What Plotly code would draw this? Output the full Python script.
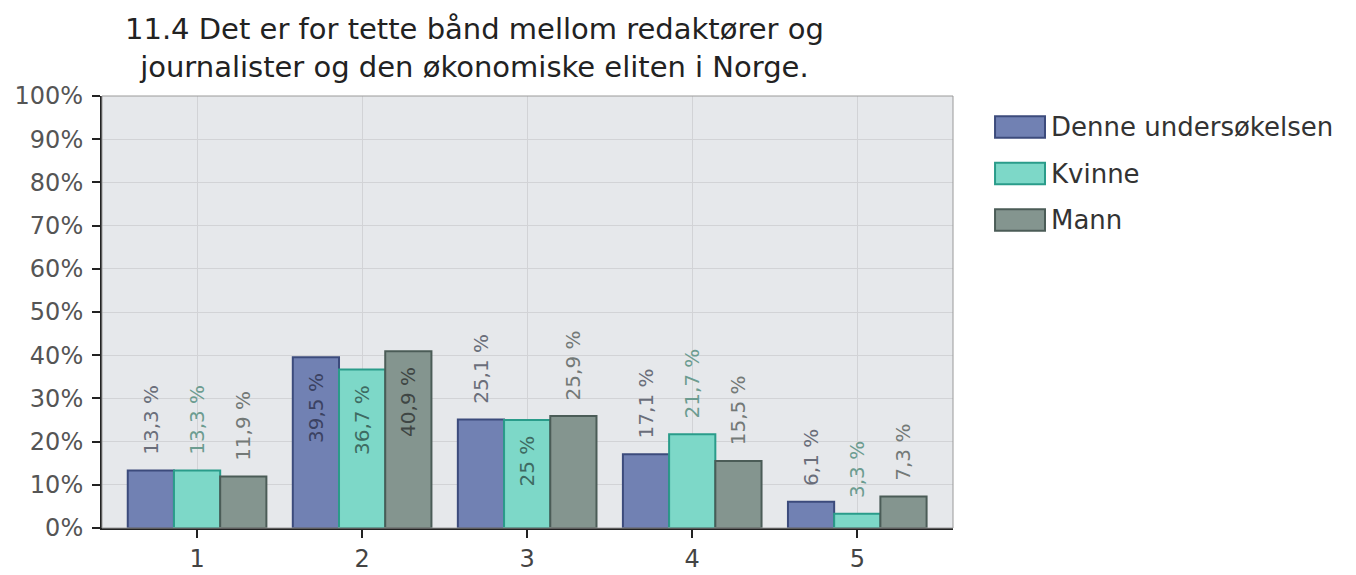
import plotly.graph_objects as go

categories = ["1", "2", "3", "4", "5"]
denne = [13.3, 39.5, 25.1, 17.1, 6.1]
kvinne = [13.3, 36.7, 25.0, 21.7, 3.3]
mann = [11.9, 40.9, 25.9, 15.5, 7.3]
series_names = ["Denne undersøkelsen", "Kvinne", "Mann"]
y_ticks = [0, 10, 20, 30, 40, 50, 60, 70, 80, 90, 100]
y_tick_labels = [f"{v}%" for v in y_ticks]
title_text = "11.4 Det er for tette bånd mellom redaktører og<br>journalister og den økonomiske eliten i Norge."

# label placement as in the reference (some labels sit inside the bar)
positions = {
    "Denne undersøkelsen": ["outside", "inside", "outside", "outside", "outside"],
    "Kvinne": ["outside", "inside", "inside", "outside", "outside"],
    "Mann": ["outside", "inside", "outside", "outside", "outside"],
}
fills = ["#7181b3", "#7dd8c8", "#84958f"]
lines = ["#3c4b7c", "#2a9c8a", "#4b5c57"]
label_colors = ["#6a6e7a", "#6c9c90", "#737977"]
inside_colors = ["#3b4262", "#3e6b62", "#3f4644"]

FONT = "DejaVu Sans, Verdana, sans-serif"
NB = "\u00a0\u00a0"


def fmt(v, pos):
    s = f"{v:g}".replace(".", ",") + " %"
    return NB + s if pos == "outside" else s + NB


fig = go.Figure()
for name, vals, fc, lc, tc, ic in zip(series_names, [denne, kvinne, mann], fills, lines,
                                      label_colors, inside_colors):
    pos = positions[name]
    fig.add_trace(go.Bar(
        name=name,
        x=categories,
        y=vals,
        text=[fmt(v, p) for v, p in zip(vals, pos)],
        textposition=pos,
        textangle=-90,
        insidetextanchor="end",
        constraintext="none",
        cliponaxis=False,
        textfont=dict(size=20, color=[ic if p == "inside" else tc for p in pos], family=FONT),
        marker=dict(color=fc, line=dict(color=lc, width=2)),
        showlegend=False,
    ))

# manual legend with wide swatches, as in the reference
legend_y = [0.9282, 0.8206, 0.7130]
for name, fc, lc, yc in zip(series_names, fills, lines, legend_y):
    fig.add_shape(type="rect", xref="paper", yref="paper",
                  x0=1.0494, x1=1.1081, y0=yc - 0.025, y1=yc + 0.025,
                  fillcolor=fc, line=dict(color=lc, width=2))
    fig.add_annotation(xref="paper", yref="paper", x=1.113, y=yc,
                       xanchor="left", yanchor="middle", showarrow=False,
                       text=name, font=dict(size=26, color="#333333", family=FONT))

fig.add_annotation(xref="paper", yref="paper", x=0.4383, y=1.111,
                   xanchor="center", yanchor="middle", showarrow=False,
                   text=title_text, font=dict(size=29, color="#222222", family=FONT))

fig.update_layout(
    width=1348,
    height=567,
    barmode="group",
    bargap=0.16,
    bargroupgap=0,
    paper_bgcolor="white",
    plot_bgcolor="#e6e8eb",
    margin=dict(l=94, r=403, t=88, b=47, autoexpand=False),
    font=dict(family=FONT, color="#555555"),
    showlegend=False,
)
fig.update_xaxes(
    type="category",
    range=[-0.576, 4.58],
    automargin=False,
    showgrid=True, gridcolor="#d2d3d6", gridwidth=1,
    showline=True, linecolor="#222222", linewidth=2,
    ticks="outside", ticklen=8, tickcolor="#222222", tickwidth=2,
    ticklabelstandoff=0,
    tickfont=dict(size=24, color="#444444", family=FONT),
)
fig.update_yaxes(
    range=[0, 100],
    automargin=False,
    tickvals=y_ticks, ticktext=y_tick_labels,
    showgrid=True, gridcolor="#d2d3d6", gridwidth=1,
    showline=True, linecolor="#222222", linewidth=2,
    ticks="outside", ticklen=8, tickcolor="#222222", tickwidth=2,
    ticklabelstandoff=4,
    tickfont=dict(size=24, color="#555555", family=FONT),
    zeroline=False,
)
fig.add_shape(type="rect", xref="paper", yref="paper", x0=0, x1=1, y0=0, y1=1,
              line=dict(color="#9a9a9a", width=1), fillcolor="rgba(0,0,0,0)", layer="above")

fig.write_html("out.html")
